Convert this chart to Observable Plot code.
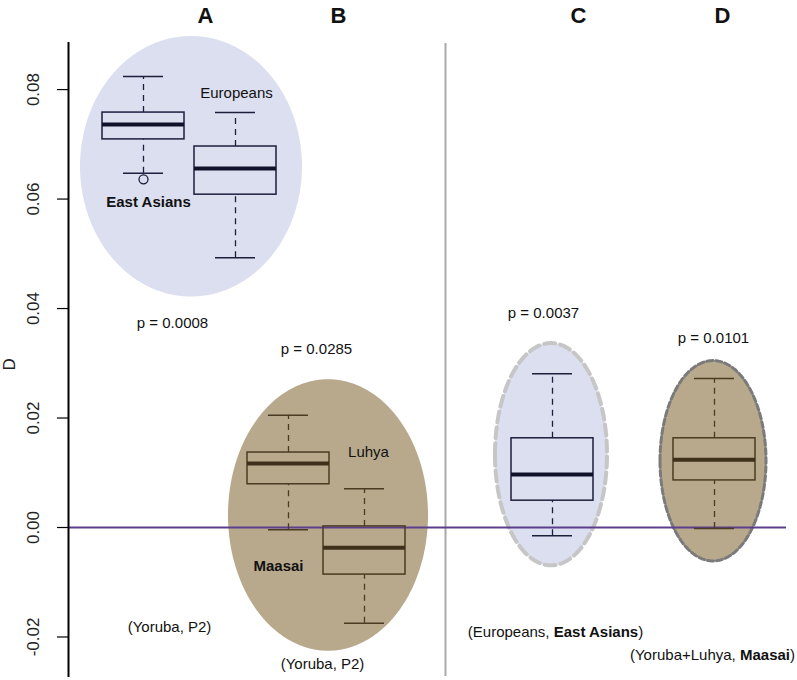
<!DOCTYPE html>
<html>
<head>
<meta charset="utf-8">
<script src="https://cdn.jsdelivr.net/npm/d3@7"></script>
<script src="https://cdn.jsdelivr.net/npm/@observablehq/plot@0.6"></script>
<style>
  html, body { margin: 0; padding: 0; background: #fff; }
  svg { font-family: "Liberation Sans", Arial, Helvetica, sans-serif; }
</style>
</head>
<body>
<div id="chart"></div>
<script>
// ---- data ----
const groups   = ["East Asians", "Europeans", "Luhya", "Maasai", "C", "D"];
const positions = [1.00, 1.92, 2.45, 3.21, 5.09, 6.71];
const whiskLo  = [0.0647, 0.0493, -0.0004, -0.0175, -0.0015, -0.0002];
const q1       = [0.0709, 0.0608, 0.0079, -0.0086, 0.0049, 0.0086];
const medians  = [0.0736, 0.0656, 0.0117, -0.0037, 0.0097, 0.0124];
const q3       = [0.0758, 0.0696, 0.0137, 0.0002, 0.0163, 0.0163];
const whiskHi  = [0.0824, 0.0758, 0.0205, 0.0071, 0.0281, 0.0272];
const palette  = ["navy", "navy", "brown", "brown", "navy", "brown"];

const outlierPos = [1.00];
const outlierVal = [0.0636];

// ellipses (center x, center y, radius x, radius y)
const ellipseNames = ["A", "B", "C", "D"];
const ellipseCx = [1.48, 2.85, 5.08, 6.70];
const ellipseCy = [0.0659, 0.0022, 0.0133, 0.0121];
const ellipseRx = [1.11, 1.00, 0.56, 0.53];
const ellipseRy = [0.0238, 0.0248, 0.0203, 0.0183];
const ellipseFill = ["#dcdff0", "#b8a98c", "#dcdff0", "#b8a98c"];
const ellipseStroke = ["none", "none", "#c6c6c6", "#7a7a7a"];

const panelLetters = ["A", "B", "C", "D"];
const panelLetterX = [1.62, 2.95, 5.35, 6.79];
const panelLetterY = 0.0935;

const yTicks = [-0.02, 0.00, 0.02, 0.04, 0.06, 0.08];

const labelText = ["Europeans", "**East Asians**", "p = 0.0008", "p = 0.0285", "Luhya", "**Maasai**",
  "(Yoruba, P2)", "(Yoruba, P2)", "p = 0.0037", "p = 0.0101",
  "(Europeans, **East Asians**)", "(Yoruba+Luhya, **Maasai**)"];
const labelX = [1.93, 1.05, 1.29, 2.73, 3.25, 2.35, 1.26, 2.79, 5.00, 6.70, 5.12, 6.69];
const labelY = [0.0793, 0.0594, 0.0373, 0.0325, 0.0137, -0.0071, -0.0183, -0.0250, 0.0391, 0.0345, -0.0192, -0.0234];

const separatorX = 4.02;

// ---- build tables ----
const colors = { navy: { line: "#1c1f3c", median: "#10122a" }, brown: { line: "#4a3c22", median: "#3e301a" } };
const boxes = groups.map((g, i) => ({
  g, x: positions[i], lo: whiskLo[i], q1: q1[i], med: medians[i], q3: q3[i], hi: whiskHi[i],
  c: colors[palette[i]]
}));
const outliers = outlierPos.map((x, i) => ({ x, y: outlierVal[i] }));

const halfBox = 0.41, halfCap = 0.20;
const ellipsePts = ellipseNames.map((n, i) => {
  const pts = [];
  const N = 180;
  for (let k = 0; k <= N; k++) {
    const t = Math.PI - Math.PI * k / N;
    pts.push({
      x: ellipseCx[i] + ellipseRx[i] * Math.cos(t),
      y1: ellipseCy[i] - ellipseRy[i] * Math.sin(t),
      y2: ellipseCy[i] + ellipseRy[i] * Math.sin(t)
    });
  }
  return pts;
});
const labels = labelText.map((t, i) => ({ t, x: labelX[i], y: labelY[i] }));

const marks = [];
ellipsePts.forEach((pts, i) => {
  const dashed = ellipseStroke[i] !== "none";
  marks.push(Plot.areaY(pts, {
    x: "x", y1: "y1", y2: "y2", fill: ellipseFill[i],
    stroke: ellipseStroke[i],
    strokeWidth: i === 2 ? 4 : 3,
    strokeDasharray: i === 2 ? "11,5" : "6,3",
    curve: "linear"
  }));
});
marks.push(
  Plot.ruleX([separatorX], { y1: -0.0272, y2: 0.0884, stroke: "#a9a9a9", strokeWidth: 2 }),
  Plot.ruleY([0], { x1: 0.25, x2: 7.43, stroke: "#5c3f8c", strokeWidth: 2.2 }),
  // whiskers
  Plot.ruleX(boxes, { x: "x", y1: "q3", y2: "hi", stroke: d => d.c.line, strokeWidth: 1.3, strokeDasharray: "6,5" }),
  Plot.ruleX(boxes, { x: "x", y1: "lo", y2: "q1", stroke: d => d.c.line, strokeWidth: 1.3, strokeDasharray: "6,5" }),
  Plot.ruleY(boxes, { y: "hi", x1: d => d.x - halfCap, x2: d => d.x + halfCap, stroke: d => d.c.line, strokeWidth: 1.5 }),
  Plot.ruleY(boxes, { y: "lo", x1: d => d.x - halfCap, x2: d => d.x + halfCap, stroke: d => d.c.line, strokeWidth: 1.5 }),
  // boxes
  Plot.rect(boxes, { x1: d => d.x - halfBox, x2: d => d.x + halfBox, y1: "q1", y2: "q3", fill: "none", stroke: d => d.c.line, strokeWidth: 1.5 }),
  Plot.ruleY(boxes, { y: "med", x1: d => d.x - halfBox, x2: d => d.x + halfBox, stroke: d => d.c.median, strokeWidth: 4 }),
  Plot.dot(outliers, { x: "x", y: "y", r: 4.5, stroke: "#1c1f3c", fill: "none", strokeWidth: 1.3 }),
  // y axis
  Plot.ruleX([0.25], { y1: -0.0274, y2: 0.0886, stroke: "#000", strokeWidth: 2 }),
  Plot.axisY({ ticks: yTicks, tickSize: 11, tickFormat: () => "", stroke: "#000", strokeWidth: 1.2 }),
  Plot.text(yTicks, { x: -0.10, y: d => d, text: d => d.toFixed(2), rotate: -90, fontSize: 17, fill: "#222", textAnchor: "middle" }),
  Plot.text(["D"], { x: -0.34, y: 0.0298, text: d => d, rotate: -90, fontSize: 17, fill: "#222" }),
  // panel letters
  Plot.text(panelLetters, { x: (d, i) => panelLetterX[i], y: () => panelLetterY, text: d => d, fontSize: 22, fontWeight: "bold", fill: "#111" }),
  // annotations
  Plot.text(labels, { x: "x", y: "y", text: "t", fontSize: 15, fill: "#111" })
);

const chart = Plot.plot({
  width: 797,
  height: 680,
  marginLeft: 68,
  marginRight: 0,
  marginTop: 42,
  marginBottom: 3,
  x: { domain: [0.25, 7.54], axis: null },
  y: { domain: [-0.0274, 0.0886], axis: null },
  style: { fontFamily: "'Liberation Sans', Arial, Helvetica, sans-serif", overflow: "visible" },
  marks
});

// render **bold** segments as tspans
chart.querySelectorAll("text").forEach(el => {
  const s = el.textContent;
  if (!s.includes("**")) return;
  el.textContent = "";
  s.split("**").forEach((part, i) => {
    if (!part) return;
    const ts = document.createElementNS("http://www.w3.org/2000/svg", "tspan");
    ts.textContent = part;
    if (i % 2 === 1) ts.setAttribute("font-weight", "bold");
    el.appendChild(ts);
  });
});

document.getElementById("chart").appendChild(chart);
</script>
</body>
</html>
